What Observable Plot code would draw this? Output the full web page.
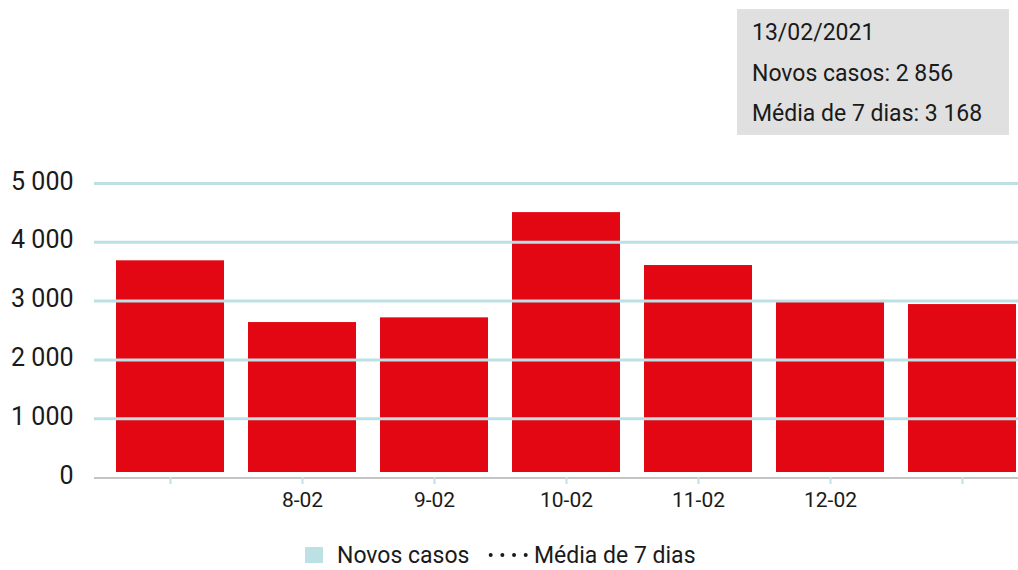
<!DOCTYPE html>
<html>
<head>
<meta charset="utf-8">
<script src="https://cdn.jsdelivr.net/npm/d3@7"></script>
<script src="https://cdn.jsdelivr.net/npm/@observablehq/plot@0.6"></script>
<style>
  html, body { margin: 0; padding: 0; background: #fff; overflow: hidden; }
  body { font-family: Roboto, "Noto Sans", sans-serif; color: #1a1a1a; }
  #wrap { position: relative; width: 1018px; height: 570px; overflow: hidden; }
  #chart { position: absolute; left: 0; top: 0; }
  #tip { position: absolute; left: 737px; top: 9px; width: 272px; height: 126px; background: #e0e0e0; }
  #tip div { position: absolute; left: 15px; font-size: 23px; line-height: 23px; white-space: nowrap; color: #1a1a1a; }
  .leg { position: absolute; font-size: 23px; line-height: 23px; white-space: nowrap; color: #1a1a1a; }
</style>
</head>
<body>
<div id="wrap">
  <div id="chart"></div>
  <div id="tip"></div>
  <div id="legend"></div>
</div>
<script>
// ---- data ----
const dates = ["7-02", "8-02", "9-02", "10-02", "11-02", "12-02", "13-02"];
const xTickLabels = ["", "8-02", "9-02", "10-02", "11-02", "12-02", ""];
const newCases = [3600, 2550, 2630, 4420, 3520, 2900, 2856];
const yTicks = [0, 1000, 2000, 3000, 4000, 5000];
const yTickLabels = ["0", "1 000", "2 000", "3 000", "4 000", "5 000"];
const tipLines = ["13/02/2021", "Novos casos: 2 856", "Média de 7 dias: 3 168"];
const legendLabels = ["Novos casos", "Média de 7 dias"];

const table = dates.map((d, i) => ({date: d, cases: newCases[i]}));
const xLab = new Map(dates.map((d, i) => [d, xTickLabels[i]]));
const yLab = new Map(yTicks.map((d, i) => [d, yTickLabels[i]]));

const RED = "#e30713";
const GRID = "#bde0e5";

const plot = Plot.plot({
  width: 1018,
  height: 520,
  marginLeft: 94,
  marginRight: 0,
  marginTop: 183,
  marginBottom: 43,
  style: {fontFamily: "Roboto", background: "transparent", color: "#1a1a1a", maxWidth: "none", overflow: "hidden"},
  x: {domain: dates, range: [94, 1038], paddingInner: 0.18, paddingOuter: 0.148, axis: null},
  y: {domain: [0, 5000], axis: null},
  marks: [
    Plot.barY(table, {x: "date", y: "cases", fill: RED, dy: -5}),
    Plot.ruleY(yTicks.filter(d => d > 0), {stroke: GRID, strokeWidth: 3}),
    Plot.ruleY([0], {stroke: "#b0b0b0", strokeWidth: 1.5, dy: 0.5}),
    Plot.axisY(yTicks, {anchor: "left", label: null, tickSize: 0, tickPadding: 21, fontSize: 25, dy: -2,
      tickFormat: d => yLab.get(d), fill: "#1a1a1a"}),
    Plot.axisX(dates, {anchor: "bottom", label: null, tickSize: 7, tickPadding: 8, fontSize: 21,
      stroke: GRID, strokeWidth: 2, fill: "#1a1a1a", tickFormat: d => xLab.get(d)})
  ]
});
document.getElementById("chart").appendChild(plot);

// tooltip box
const tip = document.getElementById("tip");
tipLines.forEach((t, i) => {
  const el = document.createElement("div");
  el.textContent = t;
  el.style.top = (12.3 + i * 40.5) + "px";
  tip.appendChild(el);
});

// legend
const legend = document.getElementById("legend");
const sq = document.createElement("div");
Object.assign(sq.style, {position: "absolute", left: "305px", top: "547px", width: "18px", height: "16px", background: GRID});
legend.appendChild(sq);
const l1 = document.createElement("div");
l1.className = "leg"; l1.textContent = legendLabels[0];
Object.assign(l1.style, {left: "337px", top: "543.6px"});
legend.appendChild(l1);
const dots = document.createElementNS("http://www.w3.org/2000/svg", "svg");
dots.setAttribute("width", "46"); dots.setAttribute("height", "10");
Object.assign(dots.style, {position: "absolute", left: "486px", top: "550px"});
const ln = document.createElementNS("http://www.w3.org/2000/svg", "line");
ln.setAttribute("x1", "4.7"); ln.setAttribute("x2", "41"); ln.setAttribute("y1", "5"); ln.setAttribute("y2", "5");
ln.setAttribute("stroke", "#1a1a1a"); ln.setAttribute("stroke-width", "4");
ln.setAttribute("stroke-linecap", "round"); ln.setAttribute("stroke-dasharray", "0 11.67");
dots.appendChild(ln);
legend.appendChild(dots);
const l2 = document.createElement("div");
l2.className = "leg"; l2.textContent = legendLabels[1];
Object.assign(l2.style, {left: "534px", top: "543.6px"});
legend.appendChild(l2);
</script>
</body>
</html>
